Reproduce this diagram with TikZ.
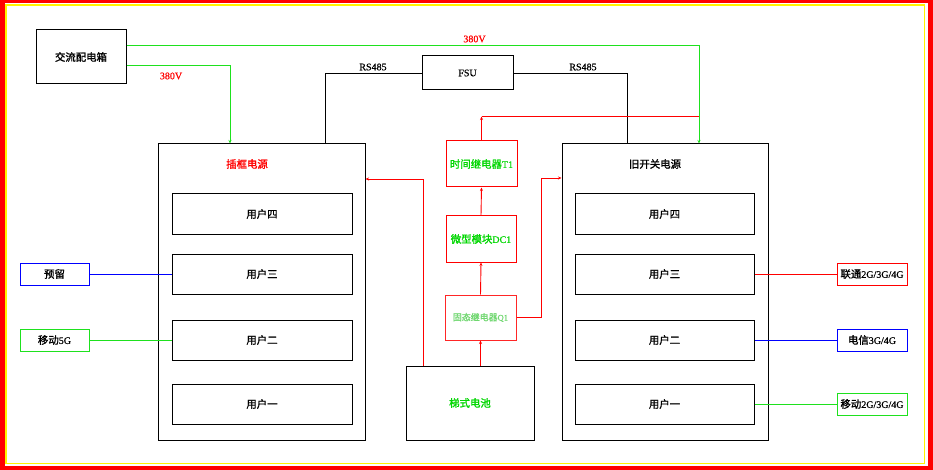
\documentclass[tikz,border=0pt]{standalone}
\usepackage{fontspec}
\setmainfont{Liberation Serif}[FakeBold=0.6]
\newfontfamily\cjk{Noto Sans CJK SC}[FakeBold=1.4,Scale=1.04]
\usetikzlibrary{arrows.meta}
\definecolor{lgreen}{RGB}{30,225,30}
\definecolor{tgreen}{RGB}{0,215,0}
\definecolor{qgreen}{RGB}{110,215,110}
\begin{document}
\begin{tikzpicture}[x=1pt,y=-1pt,
  txt/.style={font=\fontsize{10}{12}\selectfont},
  box/.style={draw=black,line width=1pt,rectangle,inner sep=0pt,txt},
  rbox/.style={draw=red,line width=1pt,rectangle,inner sep=0pt,txt,text=tgreen},
  ubox/.style={box,minimum width=180,minimum height=40},
  tagbox/.style={rectangle,inner sep=0pt,line width=1pt,minimum width=69,minimum height=22,txt},
  lbl/.style={inner sep=0pt,txt},
  tipa/.style={-{Stealth[length=3.5pt,width=3pt]}},
  kline/.style={draw=black,line width=0.9pt},
  gline/.style={draw=lgreen,line width=0.9pt},
  rline/.style={draw=red,line width=0.9pt},
  bline/.style={draw=blue,line width=0.9pt}]
\useasboundingbox (0,0) rectangle (933,470);
% frame
\fill[red] (0,0) rectangle (933,470);
\fill[white] (4.5,3) rectangle (927.5,465.5);
\draw[yellow,line width=1.6pt] (6,4.8) rectangle (924.3,463.4);

% main boxes
\node[box,minimum width=90,minimum height=54] (acbox) at (81,57) {\cjk 交流配电箱};
\node[box,minimum width=207,minimum height=296] (chak) at (261.5,292) {};
\node[box,minimum width=206,minimum height=296] (jiu) at (665,292) {};
\node[box,minimum width=91,minimum height=34] (fsu) at (467.5,73) {FSU};
\node[lbl,text=red] (chakt) at (247,164) {\cjk 插框电源};
\node[lbl] (jiut) at (655,164) {\cjk 旧开关电源};

\node[rbox,minimum width=71,minimum height=46] (T1) at (481.5,164) {{\cjk 时间继电器}T1};
\node[rbox,minimum width=70,minimum height=46] (DC1) at (481,239) {{\cjk 微型模块}DC1};
\node[rbox,draw=red!85,minimum width=71,minimum height=45,text=qgreen,font=\fontsize{8.6}{10}\selectfont] (Q1) at (480.5,317.5) {{\cjk 固态继电器}Q1};
\node[box,minimum width=128,minimum height=74,text=tgreen] (bat) at (470,403) {\cjk 梯式电池};

% user boxes
\node[ubox] (L4) at (262,214) {\cjk 用户四};
\node[ubox] (L3) at (262,274) {\cjk 用户三};
\node[ubox] (L2) at (262,340) {\cjk 用户二};
\node[ubox] (L1) at (262,404) {\cjk 用户一};
\node[ubox,minimum width=179] (R4) at (664.5,214) {\cjk 用户四};
\node[ubox,minimum width=179] (R3) at (664.5,274) {\cjk 用户三};
\node[ubox,minimum width=179] (R2) at (664.5,340) {\cjk 用户二};
\node[ubox,minimum width=179] (R1) at (664.5,404) {\cjk 用户一};

% tag boxes
\node[tagbox,draw=blue] (yl) at (54.5,274) {\cjk 预留};
\node[tagbox,draw=lgreen] (y5) at (54.5,340) {{\cjk 移动}5G};
\node[tagbox,draw=red,minimum width=70] (lt) at (872,274) {{\cjk 联通}2G/3G/4G};
\node[tagbox,draw=blue,minimum width=70] (dx) at (872,340) {{\cjk 电信}3G/4G};
\node[tagbox,draw=lgreen,minimum width=70] (yd) at (872,404) {{\cjk 移动}2G/3G/4G};

% labels
\node[lbl,text=red] (v1) at (474.5,39) {380V};
\node[lbl,text=red] (v2) at (171,76) {380V};
\node[lbl] (rs1) at (373,67) {RS485};
\node[lbl] (rs2) at (583,67) {RS485};

% 380V feeds
\draw[gline,tipa] (acbox.east |- 0,45) -| (jiu.north -| 699,0);
\draw[gline,tipa] (acbox.east |- 0,65) -| (chak.north -| 230,0);

% RS485
\draw[kline] (fsu.west) -| (chak.north -| 325,0);
\draw[kline] (fsu.east) -| (jiu.north -| 627,0);

% red control lines
\coordinate (c1) at (481.5,116.5);
\coordinate (c2) at (699,116.5);
\coordinate (c3) at (541,178);
\draw[rline,tipa] (T1.north) -- (c1);
\draw[rline] (c1) -- (c2);
\draw[rline,tipa] (DC1.north) -- (T1.south);
\draw[rline,tipa] (Q1.north) -- (DC1.south);
\draw[rline,tipa] (bat.north -| Q1.south) -- (Q1.south);
\draw[rline,tipa] (Q1.east) -| (c3) -- (jiu.west |- c3);
\draw[rline,tipa] (bat.north -| 423,0) |- (chak.east |- 0,179);

% user feeds
\draw[bline] (yl.east) -- (L3.west);
\draw[gline] (y5.east) -- (L2.west);
\draw[rline] (R3.east) -- (lt.west);
\draw[bline] (R2.east) -- (dx.west);
\draw[gline] (R1.east) -- (yd.west);
\end{tikzpicture}
\end{document}
